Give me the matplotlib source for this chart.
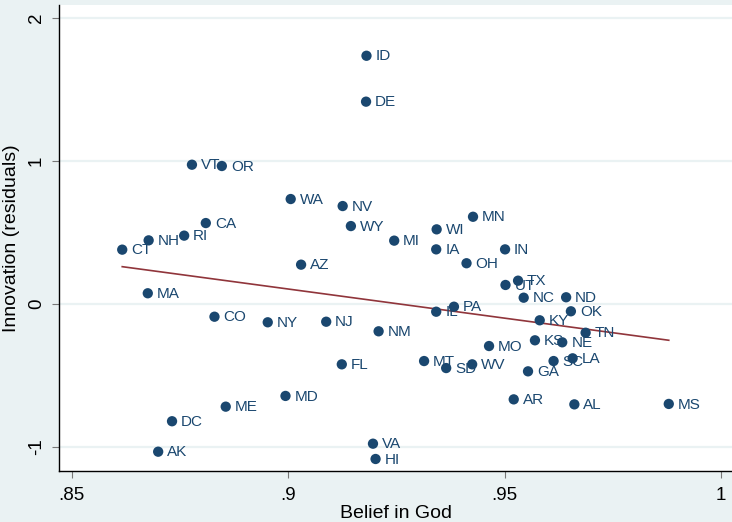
import matplotlib
matplotlib.use("Agg")
import matplotlib.pyplot as plt
import numpy as np

plt.rcParams['font.family'] = ['Liberation Sans', 'DejaVu Sans']

states = ["ID", "DE", "VT", "OR", "WA", "NV", "CA", "RI", "NH", "CT", "WY",
          "MN", "WI", "MI", "IA", "IN", "AZ", "MA", "CO", "NY", "NJ", "FL",
          "MD", "ME", "DC", "AK", "OH", "TX", "UT", "NC", "ND", "OK", "PA",
          "IL", "KY", "TN", "NM", "KS", "NE", "MO", "MT", "SD", "WV", "SC",
          "LA", "GA", "AR", "AL", "MS", "VA", "HI"]
belief = [0.9181, 0.9180, 0.8778, 0.8847, 0.9006, 0.9126, 0.8810, 0.8760,
          0.8678, 0.8617, 0.9145, 0.9427, 0.9343, 0.9245, 0.9342, 0.9501,
          0.9030, 0.8676, 0.8830, 0.8953, 0.9088, 0.9124, 0.8994, 0.8856,
          0.8732, 0.8700, 0.9412, 0.9531, 0.9502, 0.9544, 0.9642, 0.9653,
          0.9383, 0.9342, 0.9581, 0.9687, 0.9209, 0.9570, 0.9633, 0.9464,
          0.9314, 0.9365, 0.9425, 0.9613, 0.9657, 0.9554, 0.9521, 0.9661,
          0.9879, 0.9196, 0.9202]
innovation = [1.734, 1.413, 0.972, 0.963, 0.732, 0.683, 0.564, 0.476,
              0.443, 0.378, 0.543, 0.608, 0.520, 0.441, 0.380, 0.380,
              0.273, 0.073, -0.091, -0.130, -0.126, -0.424, -0.645, -0.720,
              -0.822, -1.035, 0.283, 0.161, 0.131, 0.042, 0.045, -0.053,
              -0.021, -0.056, -0.116, -0.203, -0.193, -0.256, -0.270, -0.296,
              -0.401, -0.450, -0.424, -0.401, -0.382, -0.473, -0.669, -0.704,
              -0.701, -0.979, -1.086]
# linear fit: slope, intercept
fit_coef = (-4.078, 3.773)

xticks = [0.85, 0.9, 0.95, 1.0]
xticklabels = [".85", ".9", ".95", "1"]
yticks = [-1, 0, 1, 2]
yticklabels = ["-1", "0", "1", "2"]

bg = "#eaf2f3"
navy = "#1a476f"
maroon = "#90353b"

W, H = 732, 522
fig = plt.figure(figsize=(W / 100, H / 100), dpi=100, facecolor=bg)
ax = fig.add_axes([59 / W, (H - 471) / H, (W - 59) / W, (471 - 5) / H])
ax.set_facecolor("white")

ax.set_xlim(0.8471, 1.0025)
ax.set_ylim(-1.17, 2.089)

for yt in yticks:
    ax.axhline(yt, color=bg, lw=1.6, zorder=0)

x = np.array(belief)
xs = np.array([x.min(), x.max()])
ax.plot(xs, fit_coef[0] * xs + fit_coef[1], color=maroon, lw=1.2, zorder=2)

ax.scatter(belief, innovation, s=55, color=navy, edgecolors="none", zorder=3)
for name, bx, iy in zip(states, belief, innovation):
    ax.annotate(name, (bx, iy), xytext=(6.5, -0.5), textcoords="offset points",
                va="center", ha="left", fontsize=11, color=navy, zorder=4)

ax.set_xticks(xticks)
ax.set_xticklabels(xticklabels)
ax.set_yticks(yticks)
ax.set_yticklabels(yticklabels, rotation=90, va="center")
ax.tick_params(axis="both", length=5, width=0.8, color="#777777",
               labelsize=13.5)
ax.tick_params(axis="x", pad=6.5)
ax.tick_params(axis="y", pad=5)

for side in ["top", "right"]:
    ax.spines[side].set_visible(False)
for side in ["left", "bottom"]:
    ax.spines[side].set_linewidth(1.0)
    ax.spines[side].set_color("black")

ax.set_xlabel("Belief in God", fontsize=14, labelpad=0.5)
ax.set_ylabel("Innovation (residuals)", fontsize=14, labelpad=6)

fig.savefig("out.png", dpi=100, facecolor=bg)
